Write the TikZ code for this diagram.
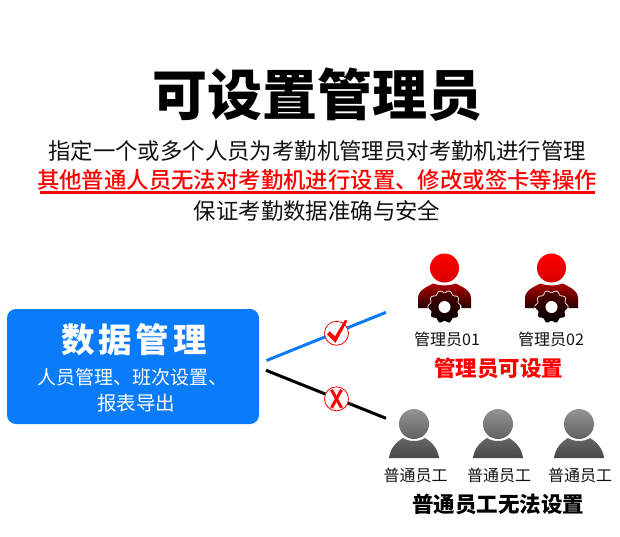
\documentclass[tikz,border=0pt]{standalone}
\usepackage{fontspec}
\setmainfont{Noto Sans CJK SC}
\newfontfamily\cjk{Noto Sans CJK SC}
\newfontfamily\cjkmed{Noto Sans CJK SC Medium}
\newfontfamily\cjkspaced[LetterSpace=11]{Noto Sans CJK SC}
\usetikzlibrary{calc}
\definecolor{boxblue}{HTML}{0A7CFA}
\definecolor{inkgray}{HTML}{111111}
\newcommand{\gearpath}{plot[domain=0:360,samples=181,smooth] ({(15+1.2*cos(10*\x))*cos(\x)},{39+(15+1.2*cos(10*\x))*sin(\x)}) -- cycle}
\tikzset{
  txt/.style={inner sep=0pt,text=inkgray,anchor=center},
  headline/.style={txt,font=\fontsize{22.4}{24}\selectfont},
  rednote/.style={txt,text=red,font=\fontsize{21.5}{24}\selectfont\bfseries},
  blacknote/.style={txt,text=black,font=\fontsize{21.5}{24}\selectfont\bfseries},
  small/.style={txt,font=\fontsize{16}{18}\selectfont},
  mark disc/.style={circle,draw=red,fill=white,line width=0.8pt,minimum size=24pt,inner sep=0pt},
  redperson/.pic={
    \shade[top color=red,bottom color=red!85!black] (0,0) circle[radius=14.5];
    \shade[top color=red!68!black,bottom color=red!15!black]
      (-26.5,40) -- (-26.5,30) .. controls (-26,22) and (-18,19) .. (-11,15.5)
      .. controls (-5,18) and (5,18) .. (11,15.5) .. controls (18,19) and (26,22) .. (26.5,30) -- (26.5,40) -- cycle;
    \draw[white,line width=1.6pt,fill=white] \gearpath;
    \shade[top color=red!30!black,bottom color=black] \gearpath;
    \fill[white] (0,39) circle[radius=6];
  },
  grayperson/.pic={
    \shade[top color=black!42,bottom color=black!62] (0,0) circle[radius=15];
    \shade[top color=black!60,bottom color=black!72]
      (-25,34) .. controls (-24,25) and (-18,18) .. (-11,14)
      .. controls (-5,18) and (5,18) .. (11,14) .. controls (18,18) and (24,25) .. (25,34) -- cycle;
  }
}
\begin{document}
\begin{tikzpicture}[x=1pt,y=-1pt]
\useasboundingbox (0,0) rectangle (620,536);
\fill[white] (0,0) rectangle (620,536);
\node[txt,text=black,font=\fontsize{55}{60}\selectfont\bfseries] (title) at (317.5,95) {可设置管理员};
\node[headline] (l1) at (317,151) {指定一个或多个人员为考勤机管理员对考勤机进行管理};
\node[headline,text=red,font=\fontsize{22.4}{24}\selectfont\cjkmed] (l2) at (317,180) {其他普通人员无法对考勤机进行设置、修改或签卡等操作};
\node[headline] (l3) at (317,211) {保证考勤数据准确与安全};
\coordinate (ula) at (40,192.5);
\coordinate (ulb) at (595,192.5);
\draw[red,line width=2.6pt] (ula) -- (ulb);

\node[fill=boxblue,rounded corners=9pt,minimum width=252pt,minimum height=115pt,inner sep=0pt] (box) at (133,366.5) {};
\node[txt,text=white,font=\fontsize{33.5}{35}\selectfont\bfseries\cjkspaced] (boxt) at (134,340) {数据管理};
\node[txt,text=white,font=\fontsize{19}{20}\selectfont] (boxa) at (132,377) {人员管理、班次设置、};
\node[txt,text=white,font=\fontsize{19.5}{20}\selectfont] (boxb) at (136,403) {报表导出};

\coordinate (b0) at (266.5,360.5);
\coordinate (b1) at (386,312.3);
\coordinate (k0) at (266,370.3);
\coordinate (k1) at (386,418.3);
\draw[boxblue,line width=3pt] (b0) -- (b1);
\draw[black,line width=3pt] (k0) -- (k1);
\node[mark disc] (yes) at (336.5,333.3) {};
\node[mark disc] (no) at (336.5,398.8) {};
\fill[red] ($(yes)+(-9.5,1)$) -- ($(yes)+(-7,-2)$) -- ($(yes)+(-1.5,3)$) -- ($(yes)+(8.5,-13.5)$) -- ($(yes)+(11,-12.5)$) -- ($(yes)+(-1,9.5)$) -- cycle;
\draw[red,line width=3pt] ($(no)+(-5,-9)$) -- ($(no)+(5,9)$);
\draw[red,line width=3pt] ($(no)+(5,-9)$) -- ($(no)+(-5,9)$);

\pic at (444.5,268) {redperson};
\pic at (551.5,268) {redperson};
\node[small] (m1) at (447,339.5) {管理员01};
\node[small] (m2) at (551,339.5) {管理员02};
\node[rednote] (mn) at (498.5,368) {管理员可设置};

\pic at (414,424) {grayperson};
\pic at (498,424) {grayperson};
\pic at (579,424) {grayperson};
\node[small] (g1) at (415.5,475.5) {普通员工};
\node[small] (g2) at (499,475.5) {普通员工};
\node[small] (g3) at (580,475.5) {普通员工};
\node[blacknote] (gn) at (498,504) {普通员工无法设置};
\end{tikzpicture}
\end{document}
